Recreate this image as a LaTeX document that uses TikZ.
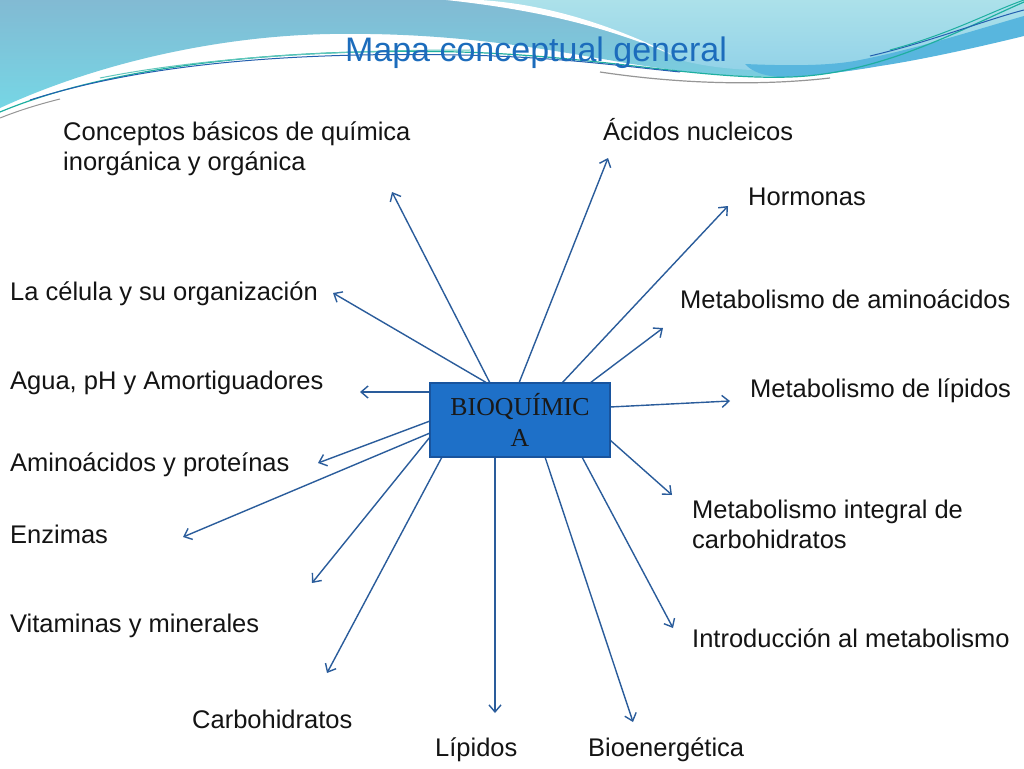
\documentclass[tikz,border=0pt]{standalone}
\usepackage{fontspec}
\setmainfont{Liberation Sans}
\newfontfamily\boxfont{Liberation Serif}
\usetikzlibrary{arrows.meta}
\definecolor{arrowblue}{RGB}{42,92,155}
\definecolor{boxfill}{RGB}{30,112,200}
\definecolor{boxdraw}{RGB}{24,84,158}
\definecolor{titleblue}{RGB}{28,108,188}
\definecolor{hdrTop}{RGB}{130,186,211}
\definecolor{hdrBot}{RGB}{118,214,229}
\definecolor{lightTop}{RGB}{172,225,234}
\definecolor{lightBot}{RGB}{146,210,232}
\definecolor{bandblue}{RGB}{88,182,222}
\definecolor{tealline}{RGB}{30,175,160}
\definecolor{darkline}{RGB}{35,95,175}
\definecolor{grayline}{RGB}{150,150,150}
\begin{document}
\begin{tikzpicture}[x=1pt,y=-1pt,
  concept/.style={anchor=base west, inner sep=0pt, font=\fontsize{25.5}{30}\selectfont, align=left, text=black!92},
  link/.style={draw=arrowblue, line width=1.4pt, -{Straight Barb[length=7pt,width=12pt,line width=1.4pt]}},
  centerbox/.style={draw=boxdraw, line width=2pt, fill=boxfill, minimum width=180pt, minimum height=74pt, inner sep=0pt, align=center, font=\boxfont\fontsize{25.8}{31}\selectfont, text=black!90}
]
\useasboundingbox (0,0) rectangle (1024,768);
\fill[white] (0,0) rectangle (1024,768);

% ---- header waves ----
\shade[top color=hdrTop, bottom color=hdrBot]
  (0,0) -- (1024,0) -- (1024,22)
  .. controls (960,45) and (890,70) .. (800,76)
  .. controls (740,79) and (680,72) .. (620,62)
  .. controls (540,48) and (450,32) .. (330,34)
  .. controls (220,36) and (100,62) .. (0,108) -- cycle;
\shade[top color=lightTop, bottom color=lightBot]
  (470,0) -- (1024,0) -- (1024,22)
  .. controls (960,45) and (890,66) .. (800,70)
  .. controls (750,72) and (710,68) .. (680,60)
  .. controls (620,30) and (560,8) .. (470,0) -- cycle;
\fill[white] (446,0) .. controls (540,10) and (610,28) .. (675,56)
  .. controls (610,24) and (545,4) .. (480,0) -- cycle;
\fill[bandblue] (745,64) .. controls (790,66) and (830,66) .. (860,60)
  .. controls (920,48) and (975,30) .. (1024,16) -- (1024,36)
  .. controls (975,48) and (920,60) .. (880,66)
  .. controls (840,73) and (800,77) .. (779,77)
  .. controls (765,76) and (752,72) .. (745,64) -- cycle;
\draw[grayline, line width=1pt] (0,118) .. controls (20,110) and (40,104) .. (60,99);
\draw[grayline, line width=1.2pt] (600,72) .. controls (680,84) and (760,86) .. (830,78);
\draw[tealline, line width=1.2pt] (0,112) .. controls (120,62) and (300,48) .. (460,52)
  .. controls (600,56) and (700,80) .. (790,77) .. controls (880,74) and (960,30) .. (1024,2);
\draw[darkline, line width=1pt] (30,100) .. controls (150,62) and (300,52) .. (460,55)
  .. controls (560,57) and (620,66) .. (680,72);
\draw[tealline!70!white, line width=1pt] (100,78) .. controls (200,58) and (330,50) .. (470,50);
\draw[darkline, line width=1pt] (870,56) .. controls (930,42) and (985,20) .. (1024,10);
\draw[tealline, line width=1pt] (890,50) .. controls (950,34) and (990,12) .. (1024,0);

% ---- title ----
\node[inner sep=0pt, anchor=base, font=\fontsize{34}{40}\selectfont, text=titleblue] (title) at (536,62) {Mapa conceptual general};

% ---- concept labels (two-line nodes are anchored at their last baseline) ----
\node[concept] (conceptos) at (63,170) {Conceptos básicos de química\\inorgánica y orgánica};
\node[concept] (acidos) at (603,140) {Ácidos nucleicos};
\node[concept] (hormonas) at (748,205) {Hormonas};
\node[concept] (celula) at (10,300) {La célula y su organización};
\node[concept] (metamino) at (680,308) {Metabolismo de aminoácidos};
\node[concept] (agua) at (10,389) {Agua, pH y Amortiguadores};
\node[concept] (metlip) at (750,397) {Metabolismo de lípidos};
\node[concept] (aminoprot) at (10,471) {Aminoácidos y proteínas};
\node[concept] (metint) at (692,548) {Metabolismo integral de\\carbohidratos};
\node[concept] (enzimas) at (10,543) {Enzimas};
\node[concept] (vitaminas) at (10,632) {Vitaminas y minerales};
\node[concept] (intro) at (692,647) {Introducción al metabolismo};
\node[concept] (carbo) at (192,728) {Carbohidratos};
\node[concept] (lipidos) at (435,756) {Lípidos};
\node[concept] (bioen) at (588,756) {Bioenergética};

% ---- arrow end points ----
\coordinate (eConceptos) at (392,192);
\coordinate (eCelula) at (333,293);
\coordinate (eAcidos) at (608,158);
\coordinate (eHormonas) at (728,206);
\coordinate (eMetamino) at (663,328);
\coordinate (eAgua) at (360,392);
\coordinate (eMetlip) at (730,401);
\coordinate (eAminoprot) at (318,463);
\coordinate (eEnzimas) at (183,537);
\coordinate (eVitaminas) at (312,583);
\coordinate (eCarbo) at (327,673);
\coordinate (eLipidos) at (495,713);
\coordinate (eBioen) at (633,722);
\coordinate (eIntro) at (673,628);
\coordinate (eMetint) at (672,495);

% ---- arrow start points on the box border ----
\coordinate (sConceptos) at (490,383);
\coordinate (sCelula) at (487,383);
\coordinate (sAcidos) at (519,383);
\coordinate (sHormonas) at (562,383);
\coordinate (sMetamino) at (590,383);
\coordinate (sAgua) at (430,392);
\coordinate (sMetlip) at (610,407);
\coordinate (sAminoprot) at (430,421);
\coordinate (sEnzimas) at (430,433);
\coordinate (sVitaminas) at (430,437);
\coordinate (sCarbo) at (442,457);
\coordinate (sLipidos) at (495,457);
\coordinate (sBioen) at (545,457);
\coordinate (sIntro) at (582,457);
\coordinate (sMetint) at (610,440);

\foreach \n in {Conceptos,Celula,Acidos,Hormonas,Metamino,Agua,Metlip,Aminoprot,Enzimas,Vitaminas,Carbo,Lipidos,Bioen,Intro,Metint}
  \draw[link] (s\n) -- (e\n);

% ---- central box ----
\node[centerbox] (bioq) at (520,420) {BIOQUÍMIC\\A};
\end{tikzpicture}
\end{document}
